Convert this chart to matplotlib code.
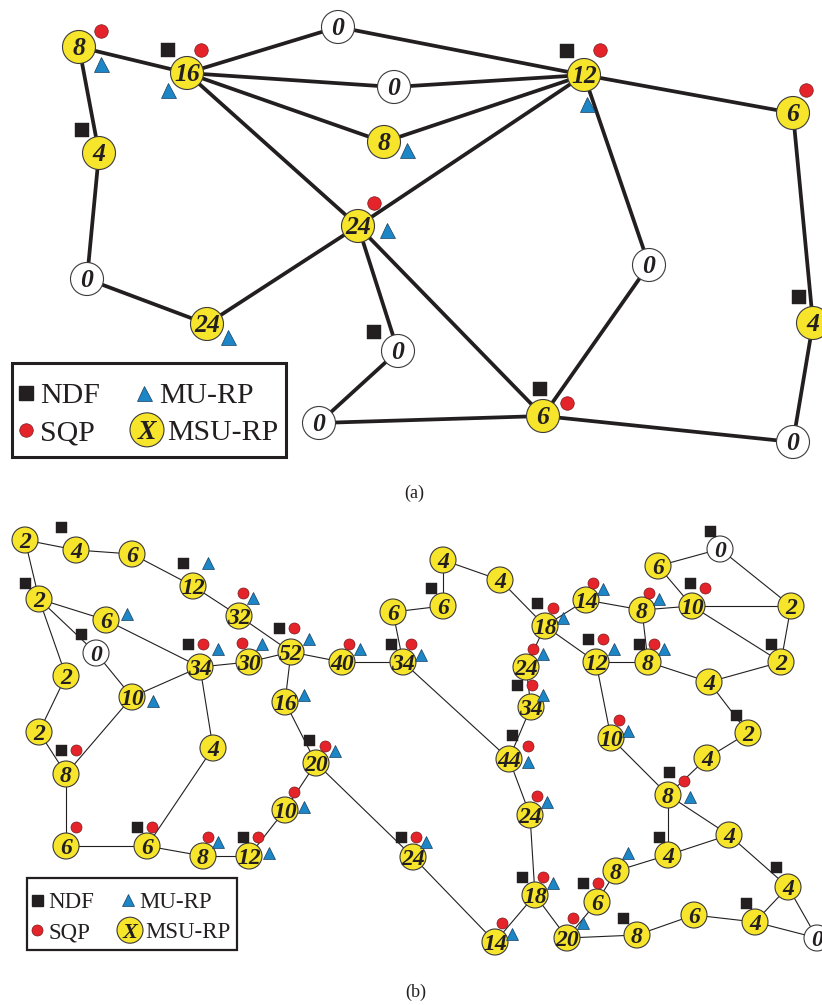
import matplotlib
matplotlib.use("Agg")
import matplotlib.pyplot as plt
from matplotlib.patches import Circle, Rectangle

# ---------------- panel (a) data ----------------
a_node_x = [79, 187, 338, 394, 384, 99, 358, 584, 793, 87, 207, 398, 319, 649, 813, 543, 793]
a_node_y = [47, 73, 27, 87, 142, 153, 226, 75, 113, 279, 324, 351, 423, 265, 323, 416, 442]
a_node_val = [8, 16, 0, 0, 8, 4, 24, 12, 6, 0, 24, 0, 0, 0, 4, 6, 0]
a_edges = [(0, 1), (0, 5), (5, 9), (9, 10), (10, 6), (1, 2), (2, 7), (1, 3), (3, 7),
           (1, 4), (4, 7), (1, 6), (6, 7), (7, 8), (7, 13), (13, 15), (6, 11), (6, 15),
           (11, 12), (12, 15), (15, 16), (16, 14), (14, 8)]
a_ndf_x = [168, 82, 567, 374, 540, 799]
a_ndf_y = [50, 130, 51, 332, 389, 297]
a_sqp_x = [101, 201, 374, 600, 806, 567]
a_sqp_y = [31, 50, 203, 50, 90, 403]
a_mu_x = [101, 168, 407, 387, 587, 228]
a_mu_y = [64, 90, 150, 230, 104, 337]

# ---------------- panel (b) data ----------------
b_node_x = [25, 76, 132, 193, 239, 39, 106, 96, 66, 132, 200, 249, 39, 66, 213, 66, 147, 203, 249,
            291, 285, 316, 285, 342, 403, 393, 443, 443, 500, 545, 526, 531, 509, 530, 535, 495, 413,
            586, 642, 692, 658, 720, 791, 596, 648, 781, 709, 748, 611, 707, 668, 729, 668, 616, 597,
            567, 637, 694, 755, 788, 817]
b_node_y = [540, 550, 554, 586, 616, 599, 620, 653, 676, 697, 667, 662, 732, 774, 748, 846, 846, 856, 856,
            652, 702, 763, 810, 662, 662, 612, 606, 560, 580, 626, 667, 707, 759, 815, 895, 942, 857,
            600, 610, 606, 566, 549, 606, 662, 662, 662, 682, 733, 738, 758, 795, 835, 855, 871, 902,
            938, 935, 915, 922, 887, 938]
b_node_val = [2, 4, 6, 12, 32, 2, 6, 0, 2, 10, 34, 30, 2, 8, 4, 6, 6, 8, 12,
              52, 16, 20, 10, 40, 34, 6, 6, 4, 4, 18, 24, 34, 44, 24, 18, 14, 24,
              14, 8, 10, 6, 0, 2, 12, 8, 2, 4, 2, 10, 4, 8, 4, 4, 8, 6,
              20, 8, 6, 4, 4, 0]
b_edges = [(0, 1), (1, 2), (2, 3), (3, 4), (4, 19), (0, 5), (5, 6), (5, 7), (5, 8), (6, 10),
           (7, 9), (9, 10), (10, 11), (11, 19), (10, 14), (8, 12), (12, 13), (9, 13), (13, 15),
           (15, 16), (14, 16), (16, 17), (17, 18), (18, 22), (22, 21), (21, 20), (20, 19),
           (19, 23), (23, 24), (24, 25), (25, 26), (26, 27), (27, 28), (28, 29), (24, 32),
           (21, 36), (36, 35), (35, 34), (34, 33), (33, 32), (32, 31), (31, 30), (30, 29),
           (29, 37), (29, 43), (37, 38), (38, 39), (38, 44), (43, 44), (43, 48), (48, 50),
           (44, 46), (46, 45), (46, 47), (47, 49), (49, 50), (40, 41), (40, 39), (39, 42),
           (39, 45), (41, 42), (42, 45), (50, 51), (50, 52), (52, 51), (52, 53), (53, 54),
           (54, 55), (34, 55), (55, 56), (56, 57), (57, 58), (58, 59), (51, 59), (59, 60),
           (58, 60)]
b_ndf_x = [61, 25, 183, 81, 188, 279, 61, 137, 243, 309, 391, 401, 431, 537, 517, 512, 522, 588,
           639, 690, 710, 771, 736, 669, 659, 583, 623, 746, 776]
b_ndf_y = [527, 583, 563, 634, 644, 628, 750, 827, 837, 740, 644, 837, 588, 603, 685, 735, 877, 639,
           644, 583, 531, 644, 715, 772, 837, 883, 918, 903, 867]
b_sqp_x = [243, 203, 242, 294, 76, 76, 152, 208, 258, 325, 294, 349, 411, 416, 502, 543, 537, 528,
           532, 533, 553, 593, 649, 705, 603, 654, 619, 684, 598, 573]
b_sqp_y = [593, 644, 643, 628, 750, 827, 827, 837, 837, 746, 792, 644, 644, 837, 923, 877, 796, 746,
           685, 649, 608, 583, 593, 588, 639, 644, 720, 781, 883, 918]
b_mu_x = [208, 253, 127, 218, 262, 309, 153, 304, 335, 304, 360, 421, 218, 269, 426, 512, 553, 547,
          528, 543, 543, 563, 603, 659, 614, 664, 628, 690, 628, 583]
b_mu_y = [563, 598, 614, 649, 644, 639, 701, 695, 751, 807, 649, 655, 842, 853, 842, 934, 883, 802,
          762, 695, 654, 618, 589, 599, 649, 649, 731, 797, 853, 923]

legend_labels = ["NDF", "SQP", "MU-RP", "MSU-RP"]
captions = ["(a)", "(b)"]

# ---------------- styles ----------------
YELLOW = "#F6E52B"
RED = "#E5232A"
BLUE = "#1C86C6"
BLACK = "#231F20"
EDGE = "#3C3A3A"
SERIF = ["Liberation Serif", "DejaVu Serif"]
PX = 0.72  # points per pixel at dpi 100

fig = plt.figure(figsize=(8.22, 10.05), dpi=100)
ax = fig.add_axes([0, 0, 1, 1])
ax.set_xlim(0, 822)
ax.set_ylim(1005, 0)
ax.axis("off")


def draw_panel(xs, ys, vals, edges, ndf, sqp, mu, r, elw, fs, msq, mci, mtr):
    for i, j in edges:
        ax.plot([xs[i], xs[j]], [ys[i], ys[j]], color=BLACK, lw=elw, zorder=1,
                solid_capstyle="round")
    em = fs / PX
    for x, y, v in zip(xs, ys, vals):
        face = "white" if v == 0 else YELLOW
        ax.add_patch(Circle((x, y), r, facecolor=face, edgecolor=EDGE, lw=0.8, zorder=2))
        ax.text(x, y + 0.33 * em, str(v), ha="center", va="baseline", fontsize=fs,
                family=SERIF, style="italic", weight="bold", color=BLACK, zorder=3)
    ax.plot(ndf[0], ndf[1], ls="none", marker="s", ms=msq * PX, mfc=BLACK,
            mec=BLACK, mew=0.3, zorder=4)
    ax.plot(sqp[0], sqp[1], ls="none", marker="o", ms=mci * PX, mfc=RED,
            mec="#7a1a1a", mew=0.5, zorder=4)
    ax.plot(mu[0], mu[1], ls="none", marker="^", ms=mtr * PX, mfc=BLUE,
            mec="#1a3f60", mew=0.5, zorder=4)


draw_panel(a_node_x, a_node_y, a_node_val, a_edges,
           (a_ndf_x, a_ndf_y), (a_sqp_x, a_sqp_y), (a_mu_x, a_mu_y),
           r=16.5, elw=2.7, fs=18.5, msq=14, mci=13.5, mtr=15)
draw_panel(b_node_x, b_node_y, b_node_val, b_edges,
           (b_ndf_x, b_ndf_y), (b_sqp_x, b_sqp_y), (b_mu_x, b_mu_y),
           r=13, elw=0.8, fs=17, msq=11, mci=11, mtr=12)


def draw_legend(x0, y0, x1, y1, blw, sq, col2, rows_base, fs, msq, mci, mtr, r, xfs):
    ax.add_patch(Rectangle((x0, y0), x1 - x0, y1 - y0, facecolor="white",
                           edgecolor=BLACK, lw=blw, zorder=5))
    (sx, s_txt), (mx, m_txt, msx, ms_txt) = sq, col2
    b1, b2 = rows_base
    c1, c2 = b1 - 0.34 * fs / PX, b2 - 0.34 * fs / PX
    ax.plot([sx], [c1], marker="s", ms=msq * PX, mfc=BLACK, mec=BLACK, ls="none", zorder=6)
    ax.plot([sx], [c2], marker="o", ms=mci * PX, mfc=RED, mec="#7a1a1a", mew=0.5,
            ls="none", zorder=6)
    ax.plot([mx], [c1], marker="^", ms=mtr * PX, mfc=BLUE, mec="#1a3f60", mew=0.5,
            ls="none", zorder=6)
    ax.add_patch(Circle((msx, c2), r, facecolor=YELLOW, edgecolor=EDGE, lw=0.8, zorder=6))
    ax.text(msx, c2 + 0.33 * xfs / PX, "X", ha="center", va="baseline", fontsize=xfs,
            family=SERIF, style="italic", weight="bold", color=BLACK, zorder=7)
    kw = dict(ha="left", va="baseline", fontsize=fs, family=SERIF, color=BLACK, zorder=7)
    ax.text(s_txt, b1, legend_labels[0], **kw)
    ax.text(s_txt, b2, legend_labels[1], **kw)
    ax.text(m_txt, b1, legend_labels[2], **kw)
    ax.text(ms_txt, b2, legend_labels[3], **kw)


draw_legend(12, 363, 286, 457, 2.2, (26, 40), (144, 159, 147, 167), (403, 440),
            21.5, 14, 13.5, 15, 17, 20)
draw_legend(27, 878, 237, 950, 1.6, (37, 48), (128, 139, 130, 145), (908, 938),
            16.5, 11, 11, 12, 13, 16)

ax.text(414, 493, captions[0], ha="center", va="center", fontsize=13, family=SERIF, color=BLACK)
ax.text(416, 992, captions[1], ha="center", va="center", fontsize=13, family=SERIF, color=BLACK)

fig.savefig("out.png", dpi=100)
